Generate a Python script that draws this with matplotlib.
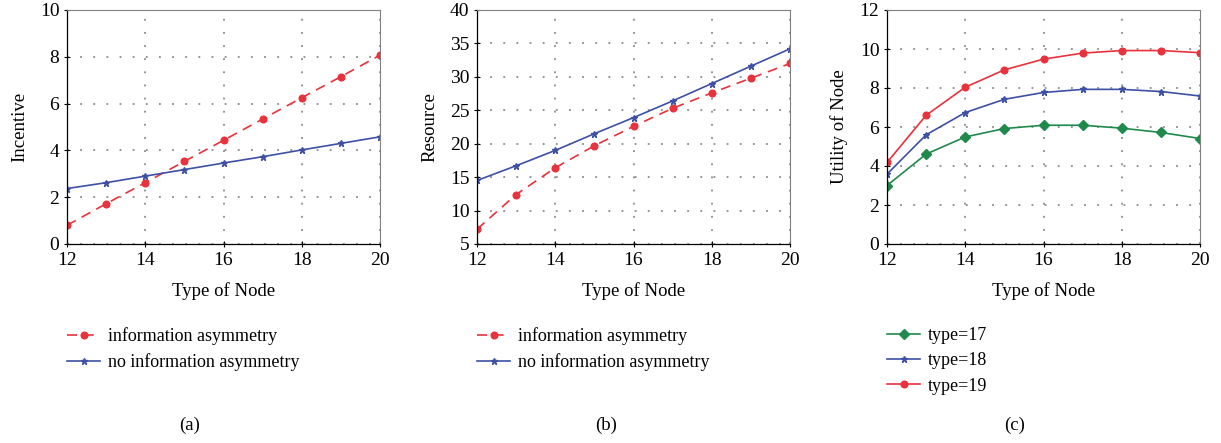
import matplotlib
matplotlib.use("Agg")
import matplotlib.pyplot as plt

plt.rcParams['font.family'] = ['Liberation Serif', 'DejaVu Serif']

node_types = [12, 13, 14, 15, 16, 17, 18, 19, 20]

incentive_asym = [0.80, 1.72, 2.62, 3.53, 4.43, 5.34, 6.25, 7.15, 8.07]
incentive_noasym = [2.37, 2.62, 2.90, 3.18, 3.46, 3.73, 4.02, 4.30, 4.58]

resource_asym = [7.2, 12.4, 16.4, 19.7, 22.6, 25.3, 27.6, 29.8, 32.0]
resource_noasym = [14.5, 16.7, 19.0, 21.5, 23.9, 26.4, 29.0, 31.6, 34.2]

utility_17 = [3.00, 4.61, 5.49, 5.92, 6.09, 6.09, 5.94, 5.72, 5.41]
utility_18 = [3.58, 5.60, 6.74, 7.42, 7.77, 7.93, 7.93, 7.82, 7.59]
utility_19 = [4.18, 6.60, 8.04, 8.93, 9.48, 9.79, 9.92, 9.92, 9.81]

RED = '#e8323c'
BLUE = '#3d50a5'
GREEN = '#1f8a4c'

W, H = 1221, 443
fig = plt.figure(figsize=(W / 100, H / 100), dpi=100)

lefts = [67, 477, 887]
top_px, bot_px = 10, 244
axw = 313

def make_ax(i):
    l = lefts[i]
    ax = fig.add_axes([l / W, 1 - bot_px / H, axw / W, (bot_px - top_px) / H])
    for s in ['top', 'right']:
        ax.spines[s].set_color('#808080')
        ax.spines[s].set_linewidth(0.8)
    for s in ['left', 'bottom']:
        ax.spines[s].set_color('black')
        ax.spines[s].set_linewidth(0.9)
    ax.grid(True, linestyle=(0, (1.2, 7.4)), color='#777777', linewidth=1.1)
    ax.tick_params(direction='inout', length=5, width=0.8, labelsize=14, pad=3)
    ax.set_xlim(12, 20)
    ax.set_xticks([12, 14, 16, 18, 20])
    ax.set_xlabel('Type of Node', fontsize=13.5, labelpad=10)
    return ax

dash = (0, (6, 4))
leg_kw = dict(loc='upper left', bbox_to_anchor=(-0.022, -0.325), frameon=False,
              fontsize=13, handlelength=1.8, labelspacing=0.45, handletextpad=0.45,
              borderaxespad=0)

# (a)
ax = make_ax(0)
ax.plot(node_types, incentive_asym, color=RED, linestyle=dash, linewidth=1.2,
        marker='o', markersize=4.8, label='information asymmetry')
ax.plot(node_types, incentive_noasym, color=BLUE, linewidth=1.2,
        marker='*', markersize=4.5, label='no information asymmetry')
ax.set_ylim(0, 10)
ax.set_yticks([0, 2, 4, 6, 8, 10])
ax.set_ylabel('Incentive', fontsize=13.5, labelpad=8)
ax.legend(**leg_kw)

# (b)
ax = make_ax(1)
ax.plot(node_types, resource_asym, color=RED, linestyle=dash, linewidth=1.2,
        marker='o', markersize=4.8, label='information asymmetry')
ax.plot(node_types, resource_noasym, color=BLUE, linewidth=1.2,
        marker='*', markersize=4.5, label='no information asymmetry')
ax.set_ylim(5, 40)
ax.set_yticks([5, 10, 15, 20, 25, 30, 35, 40])
ax.set_ylabel('Resource', fontsize=13.5, labelpad=8)
ax.legend(**leg_kw)

# (c)
ax = make_ax(2)
ax.plot(node_types, utility_17, color=GREEN, linewidth=1.2,
        marker='D', markersize=4.8, label='type=17')
ax.plot(node_types, utility_18, color=BLUE, linewidth=1.2,
        marker='*', markersize=4.5, label='type=18')
ax.plot(node_types, utility_19, color=RED, linewidth=1.2,
        marker='o', markersize=4.8, label='type=19')
ax.set_ylim(0, 12)
ax.set_yticks([0, 2, 4, 6, 8, 10, 12])
ax.set_ylabel('Utility of Node', fontsize=13.5, labelpad=8)
ax.legend(**leg_kw)

for x, lab in zip([190, 606, 1015], ['(a)', '(b)', '(c)']):
    fig.text(x / W, 1 - 425 / H, lab, ha='center', va='center', fontsize=13.5)

fig.savefig('out.png', dpi=100)
